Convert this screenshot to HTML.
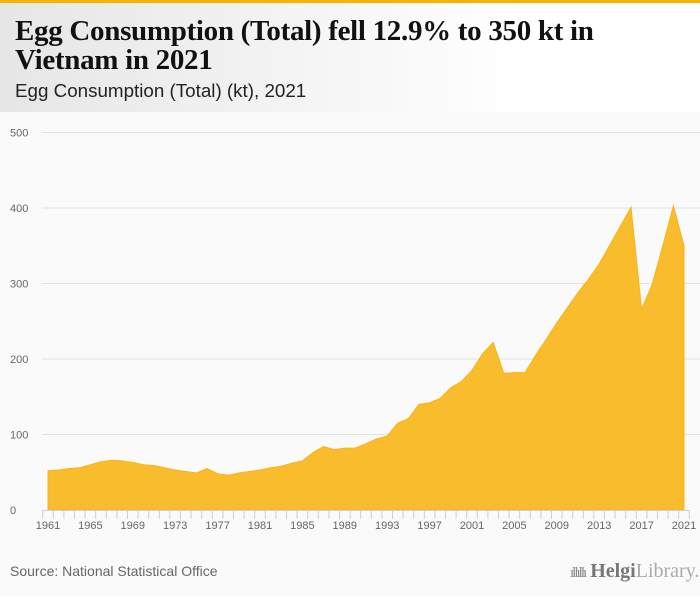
<!DOCTYPE html>
<html><head><meta charset="utf-8"><style>
body{margin:0;width:700px;height:596px;background:#fafafa;font-family:"Liberation Sans",sans-serif;overflow:hidden;position:relative}
#topbar{position:absolute;left:0;top:0;width:700px;height:3px;background:#f5b400}
#header{position:absolute;left:0;top:3px;width:700px;height:109px;background:linear-gradient(90deg,#e6e6e6,#ffffff 75%)}
#title{position:absolute;left:15px;top:14px;font-family:"Liberation Serif",serif;font-weight:bold;font-size:29px;line-height:29px;color:#111;letter-spacing:-0.3px}
#subtitle{position:absolute;left:15px;top:77px;font-size:18.8px;color:#222}
#source{position:absolute;left:10px;top:563px;font-size:14px;color:#666}
#logo{position:absolute;left:570px;top:560px;font-size:20px;color:#888;font-family:"Liberation Serif",serif}
svg{position:absolute;left:0;top:0}
</style></head><body>
<div id="topbar"></div>
<div id="header">
<div id="title">Egg Consumption (Total) fell 12.9% to 350 kt in<br>Vietnam in 2021</div>
<div id="subtitle">Egg Consumption (Total) (kt), 2021</div>
</div>
<svg id="chart" width="700" height="596"></svg>
<div id="source">Source: National Statistical Office</div>
<div id="logo"><span style="font-size:15px;letter-spacing:-2px">ıllıllı</span> <b style="color:#777">Helgi</b><span style="color:#aaa">Library.</span></div>
<script>
const years=[];for(let y=1961;y<=2021;y++)years.push(y);
const values=[52,53,55,56,60,64,66,65,63,60,59,56,53,51,49,55,48,46,49,51,53,56,58,62,65,76,84,80,82,82,88,94,98,115,121,140,142,148,162,170,185,207,222,181,182,182,205,226,248,268,288,306,326,351,376,401,266,299,350,403,350];
const yTicks=[0,100,200,300,400,500];
const xLabels=[1961,1965,1969,1973,1977,1981,1985,1989,1993,1997,2001,2005,2009,2013,2017,2021];
const NS='http://www.w3.org/2000/svg';
const svg=document.getElementById('chart');
const x0=48,x1=684,yb=510,yt=132.5;
const xs=v=>x0+(v-1961)*(x1-x0)/60;
const ys=v=>yb-v*(yb-yt)/500;
function mk(t,a){const e=document.createElementNS(NS,t);for(const k in a)e.setAttribute(k,a[k]);svg.appendChild(e);return e;}
yTicks.forEach(t=>{
 if(t>0){const g=mk('line',{x1:42,x2:700,y1:ys(t),y2:ys(t),stroke:'#e2e2e2','stroke-width':1});
 
 }
 const l=mk('text',{x:10,y:ys(t)+4,'font-size':11,fill:'#666','font-family':'Liberation Sans, sans-serif'});
 l.textContent=t;
 
 
});
let d='M'+xs(years[0])+','+yb;
years.forEach((y,i)=>{d+=' L'+xs(y).toFixed(1)+','+ys(values[i]).toFixed(1);});
d+=' L'+xs(years[years.length-1])+','+yb+' Z';
const area=mk('path',{d:d,fill:'#f9bc2c',stroke:'#f7b51c','stroke-width':1});


const ax=mk('line',{x1:42,x2:690,y1:yb+0.5,y2:yb+0.5,stroke:'#c5d0e6','stroke-width':1});


for(let y=1961;y<=2022;y++){
 const t=mk('line',{x1:xs(y)-5.3,x2:xs(y)-5.3,y1:yb,y2:yb+9,stroke:'#c5d0e6','stroke-width':1});
 
 
}
xLabels.forEach(y=>{
 const l=mk('text',{x:xs(y),y:529,'font-size':11,fill:'#666','text-anchor':'middle','font-family':'Liberation Sans, sans-serif'});
 l.textContent=y;
 
 
});
</script>
</body></html>
